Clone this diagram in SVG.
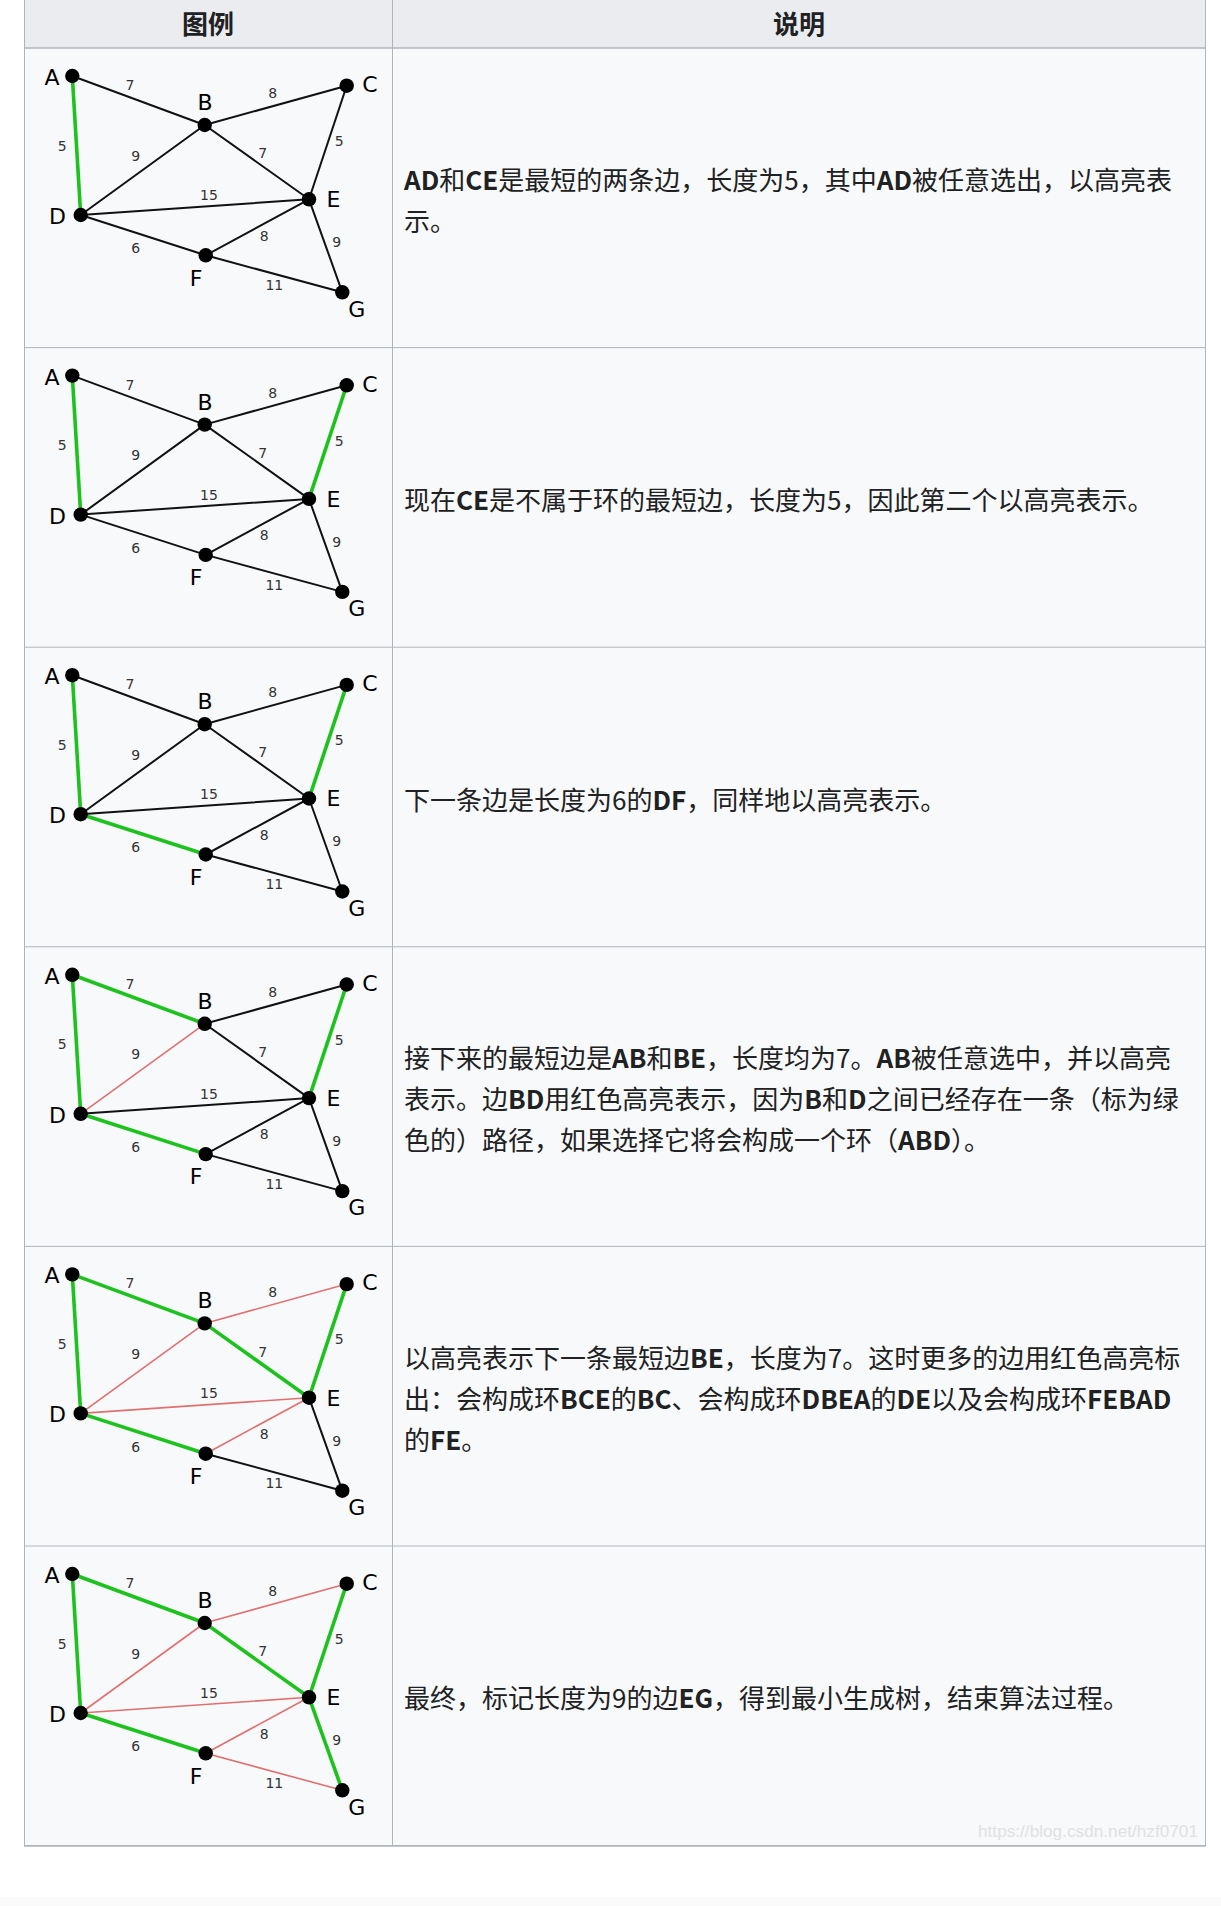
<svg xmlns="http://www.w3.org/2000/svg" width="1221" height="1906" viewBox="0 0 1221 1906">
<style>
.hd{font-family:"Noto Sans CJK SC","Noto Sans",sans-serif;font-size:26px;font-weight:bold;fill:#202122;text-anchor:middle}
.tx{font-family:"Noto Sans CJK SC","Noto Sans",sans-serif;font-size:26px;fill:#202122}
.b{font-weight:bold}
.e{stroke:#111;stroke-width:2;stroke-linecap:round;fill:none}
.g{stroke:#1ec21e;stroke-width:3.6}
.r{stroke:#e07070;stroke-width:1.6}
.n{fill:#000}
.nl{font-family:"DejaVu Sans",sans-serif;font-size:22px;fill:#000;text-anchor:middle}
.el{font-family:"DejaVu Sans",sans-serif;font-size:14px;fill:#333;text-anchor:middle}
.grid{stroke:#b0b5bc;stroke-width:1;fill:none}
.wm{font-family:"Liberation Sans",Arial,sans-serif;font-size:17px;fill:#dfe1e4;text-anchor:end}
</style>
<rect width="1221" height="1906" fill="#ffffff"/>
<rect x="0" y="1897" width="1221" height="9" fill="#fafafa"/>
<g id="table">
<rect x="24.5" y="0" width="1181" height="48" fill="#eaecf0"/>
<rect x="24.5" y="48" width="1181" height="1797.6" fill="#f8f9fa"/>
<g class="grid">
<line x1="24.5" y1="0" x2="24.5" y2="1846"/>
<line x1="392.5" y1="0" x2="392.5" y2="1846"/>
<line x1="1205.5" y1="0" x2="1205.5" y2="1846"/>
<line x1="24" y1="48" x2="1206" y2="48" stroke-width="1.6"/>
<line x1="24" y1="347.6" x2="1206" y2="347.6"/>
<line x1="24" y1="647.2" x2="1206" y2="647.2"/>
<line x1="24" y1="946.8" x2="1206" y2="946.8"/>
<line x1="24" y1="1246.4" x2="1206" y2="1246.4"/>
<line x1="24" y1="1546" x2="1206" y2="1546"/>
<line x1="24" y1="1845.8" x2="1206" y2="1845.8" stroke-width="1.8"/>
</g>
<text class="hd" x="208" y="34">图例</text>
<text class="hd" x="799" y="34">说明</text>
</g>

<g id="descriptions">
<text class="tx" x="404" y="190"><tspan class="b">AD</tspan>和<tspan class="b">CE</tspan>是最短的两条边，长度为5，其中<tspan class="b">AD</tspan>被任意选出，以高亮表</text>
<text class="tx" x="404" y="231">示。</text>
<text class="tx" x="404" y="510">现在<tspan class="b">CE</tspan>是不属于环的最短边，长度为5，因此第二个以高亮表示。</text>
<text class="tx" x="404" y="809.6">下一条边是长度为6的<tspan class="b">DF</tspan>，同样地以高亮表示。</text>
<text class="tx" x="404" y="1068">接下来的最短边是<tspan class="b">AB</tspan>和<tspan class="b">BE</tspan>，长度均为7。<tspan class="b">AB</tspan>被任意选中，并以高亮</text>
<text class="tx" x="404" y="1109">表示。边<tspan class="b">BD</tspan>用红色高亮表示，因为<tspan class="b">B</tspan>和<tspan class="b">D</tspan>之间已经存在一条（标为绿</text>
<text class="tx" x="404" y="1150">色的）路径，如果选择它将会构成一个环（<tspan class="b">ABD</tspan>）。</text>
<text class="tx" x="404" y="1368">以高亮表示下一条最短边<tspan class="b">BE</tspan>，长度为7。这时更多的边用红色高亮标</text>
<text class="tx" x="404" y="1409">出：会构成环<tspan class="b">BCE</tspan>的<tspan class="b">BC</tspan>、会构成环<tspan class="b">DBEA</tspan>的<tspan class="b">DE</tspan>以及会构成环<tspan class="b">FEBAD</tspan></text>
<text class="tx" x="404" y="1450">的<tspan class="b">FE</tspan>。</text>
<text class="tx" x="404" y="1708">最终，标记长度为9的边<tspan class="b">EG</tspan>，得到最小生成树，结束算法过程。</text>
</g>

<g id="panel1">
<g id="p1-connectors">
<line class="e" x1="72.3" y1="76" x2="204.7" y2="125"/>
<line class="e" x1="204.7" y1="125" x2="346.7" y2="85.7"/>
<line class="e" x1="80.7" y1="215" x2="204.7" y2="125"/>
<line class="e" x1="204.7" y1="125" x2="309" y2="199.3"/>
<line class="e" x1="346.7" y1="85.7" x2="309" y2="199.3"/>
<line class="e" x1="80.7" y1="215" x2="309" y2="199.3"/>
<line class="e" x1="80.7" y1="215" x2="205.7" y2="255.3"/>
<line class="e" x1="309" y1="199.3" x2="205.7" y2="255.3"/>
<line class="e" x1="309" y1="199.3" x2="342.3" y2="292.3"/>
<line class="e" x1="205.7" y1="255.3" x2="342.3" y2="292.3"/>
<line class="e g" x1="72.3" y1="76" x2="80.7" y2="215"/>
<text class="el" x="130" y="90">7</text><text class="el" x="272.7" y="98.3">8</text><text class="el" x="62.3" y="150.7">5</text><text class="el" x="135.7" y="160.7">9</text><text class="el" x="262.7" y="158.3">7</text><text class="el" x="339.3" y="146">5</text><text class="el" x="209" y="200">15</text><text class="el" x="264.3" y="240.7">8</text><text class="el" x="135.7" y="253.3">6</text><text class="el" x="336.7" y="247.3">9</text><text class="el" x="274.3" y="290">11</text>
</g>
<g id="p1-A"><circle class="n" cx="72.3" cy="76" r="7.2"/><text class="nl" x="52" y="85">A</text></g>
<g id="p1-B"><circle class="n" cx="204.7" cy="125" r="7.2"/><text class="nl" x="205" y="110">B</text></g>
<g id="p1-C"><circle class="n" cx="346.7" cy="85.7" r="7.2"/><text class="nl" x="370" y="92">C</text></g>
<g id="p1-D"><circle class="n" cx="80.7" cy="215" r="7.2"/><text class="nl" x="57.5" y="224">D</text></g>
<g id="p1-E"><circle class="n" cx="309" cy="199.3" r="7.2"/><text class="nl" x="333.5" y="207.3">E</text></g>
<g id="p1-F"><circle class="n" cx="205.7" cy="255.3" r="7.2"/><text class="nl" x="196" y="285.7">F</text></g>
<g id="p1-G"><circle class="n" cx="342.3" cy="292.3" r="7.2"/><text class="nl" x="356.7" y="316.7">G</text></g>
</g>

<g id="panel2" transform="translate(0,299.6)">
<g id="p2-connectors">
<line class="e" x1="72.3" y1="76" x2="204.7" y2="125"/>
<line class="e" x1="204.7" y1="125" x2="346.7" y2="85.7"/>
<line class="e" x1="80.7" y1="215" x2="204.7" y2="125"/>
<line class="e" x1="204.7" y1="125" x2="309" y2="199.3"/>
<line class="e" x1="80.7" y1="215" x2="309" y2="199.3"/>
<line class="e" x1="80.7" y1="215" x2="205.7" y2="255.3"/>
<line class="e" x1="309" y1="199.3" x2="205.7" y2="255.3"/>
<line class="e" x1="309" y1="199.3" x2="342.3" y2="292.3"/>
<line class="e" x1="205.7" y1="255.3" x2="342.3" y2="292.3"/>
<line class="e g" x1="72.3" y1="76" x2="80.7" y2="215"/>
<line class="e g" x1="346.7" y1="85.7" x2="309" y2="199.3"/>
<text class="el" x="130" y="90">7</text><text class="el" x="272.7" y="98.3">8</text><text class="el" x="62.3" y="150.7">5</text><text class="el" x="135.7" y="160.7">9</text><text class="el" x="262.7" y="158.3">7</text><text class="el" x="339.3" y="146">5</text><text class="el" x="209" y="200">15</text><text class="el" x="264.3" y="240.7">8</text><text class="el" x="135.7" y="253.3">6</text><text class="el" x="336.7" y="247.3">9</text><text class="el" x="274.3" y="290">11</text>
</g>
<g id="p2-A"><circle class="n" cx="72.3" cy="76" r="7.2"/><text class="nl" x="52" y="85">A</text></g>
<g id="p2-B"><circle class="n" cx="204.7" cy="125" r="7.2"/><text class="nl" x="205" y="110">B</text></g>
<g id="p2-C"><circle class="n" cx="346.7" cy="85.7" r="7.2"/><text class="nl" x="370" y="92">C</text></g>
<g id="p2-D"><circle class="n" cx="80.7" cy="215" r="7.2"/><text class="nl" x="57.5" y="224">D</text></g>
<g id="p2-E"><circle class="n" cx="309" cy="199.3" r="7.2"/><text class="nl" x="333.5" y="207.3">E</text></g>
<g id="p2-F"><circle class="n" cx="205.7" cy="255.3" r="7.2"/><text class="nl" x="196" y="285.7">F</text></g>
<g id="p2-G"><circle class="n" cx="342.3" cy="292.3" r="7.2"/><text class="nl" x="356.7" y="316.7">G</text></g>
</g>

<g id="panel3" transform="translate(0,599.2)">
<g id="p3-connectors">
<line class="e" x1="72.3" y1="76" x2="204.7" y2="125"/>
<line class="e" x1="204.7" y1="125" x2="346.7" y2="85.7"/>
<line class="e" x1="80.7" y1="215" x2="204.7" y2="125"/>
<line class="e" x1="204.7" y1="125" x2="309" y2="199.3"/>
<line class="e" x1="80.7" y1="215" x2="309" y2="199.3"/>
<line class="e" x1="309" y1="199.3" x2="205.7" y2="255.3"/>
<line class="e" x1="309" y1="199.3" x2="342.3" y2="292.3"/>
<line class="e" x1="205.7" y1="255.3" x2="342.3" y2="292.3"/>
<line class="e g" x1="72.3" y1="76" x2="80.7" y2="215"/>
<line class="e g" x1="346.7" y1="85.7" x2="309" y2="199.3"/>
<line class="e g" x1="80.7" y1="215" x2="205.7" y2="255.3"/>
<text class="el" x="130" y="90">7</text><text class="el" x="272.7" y="98.3">8</text><text class="el" x="62.3" y="150.7">5</text><text class="el" x="135.7" y="160.7">9</text><text class="el" x="262.7" y="158.3">7</text><text class="el" x="339.3" y="146">5</text><text class="el" x="209" y="200">15</text><text class="el" x="264.3" y="240.7">8</text><text class="el" x="135.7" y="253.3">6</text><text class="el" x="336.7" y="247.3">9</text><text class="el" x="274.3" y="290">11</text>
</g>
<g id="p3-A"><circle class="n" cx="72.3" cy="76" r="7.2"/><text class="nl" x="52" y="85">A</text></g>
<g id="p3-B"><circle class="n" cx="204.7" cy="125" r="7.2"/><text class="nl" x="205" y="110">B</text></g>
<g id="p3-C"><circle class="n" cx="346.7" cy="85.7" r="7.2"/><text class="nl" x="370" y="92">C</text></g>
<g id="p3-D"><circle class="n" cx="80.7" cy="215" r="7.2"/><text class="nl" x="57.5" y="224">D</text></g>
<g id="p3-E"><circle class="n" cx="309" cy="199.3" r="7.2"/><text class="nl" x="333.5" y="207.3">E</text></g>
<g id="p3-F"><circle class="n" cx="205.7" cy="255.3" r="7.2"/><text class="nl" x="196" y="285.7">F</text></g>
<g id="p3-G"><circle class="n" cx="342.3" cy="292.3" r="7.2"/><text class="nl" x="356.7" y="316.7">G</text></g>
</g>

<g id="panel4" transform="translate(0,898.8)">
<g id="p4-connectors">
<line class="e" x1="204.7" y1="125" x2="346.7" y2="85.7"/>
<line class="e r" x1="80.7" y1="215" x2="204.7" y2="125"/>
<line class="e" x1="204.7" y1="125" x2="309" y2="199.3"/>
<line class="e" x1="80.7" y1="215" x2="309" y2="199.3"/>
<line class="e" x1="309" y1="199.3" x2="205.7" y2="255.3"/>
<line class="e" x1="309" y1="199.3" x2="342.3" y2="292.3"/>
<line class="e" x1="205.7" y1="255.3" x2="342.3" y2="292.3"/>
<line class="e g" x1="72.3" y1="76" x2="204.7" y2="125"/>
<line class="e g" x1="72.3" y1="76" x2="80.7" y2="215"/>
<line class="e g" x1="346.7" y1="85.7" x2="309" y2="199.3"/>
<line class="e g" x1="80.7" y1="215" x2="205.7" y2="255.3"/>
<text class="el" x="130" y="90">7</text><text class="el" x="272.7" y="98.3">8</text><text class="el" x="62.3" y="150.7">5</text><text class="el" x="135.7" y="160.7">9</text><text class="el" x="262.7" y="158.3">7</text><text class="el" x="339.3" y="146">5</text><text class="el" x="209" y="200">15</text><text class="el" x="264.3" y="240.7">8</text><text class="el" x="135.7" y="253.3">6</text><text class="el" x="336.7" y="247.3">9</text><text class="el" x="274.3" y="290">11</text>
</g>
<g id="p4-A"><circle class="n" cx="72.3" cy="76" r="7.2"/><text class="nl" x="52" y="85">A</text></g>
<g id="p4-B"><circle class="n" cx="204.7" cy="125" r="7.2"/><text class="nl" x="205" y="110">B</text></g>
<g id="p4-C"><circle class="n" cx="346.7" cy="85.7" r="7.2"/><text class="nl" x="370" y="92">C</text></g>
<g id="p4-D"><circle class="n" cx="80.7" cy="215" r="7.2"/><text class="nl" x="57.5" y="224">D</text></g>
<g id="p4-E"><circle class="n" cx="309" cy="199.3" r="7.2"/><text class="nl" x="333.5" y="207.3">E</text></g>
<g id="p4-F"><circle class="n" cx="205.7" cy="255.3" r="7.2"/><text class="nl" x="196" y="285.7">F</text></g>
<g id="p4-G"><circle class="n" cx="342.3" cy="292.3" r="7.2"/><text class="nl" x="356.7" y="316.7">G</text></g>
</g>

<g id="panel5" transform="translate(0,1198.4)">
<g id="p5-connectors">
<line class="e r" x1="204.7" y1="125" x2="346.7" y2="85.7"/>
<line class="e r" x1="80.7" y1="215" x2="204.7" y2="125"/>
<line class="e r" x1="80.7" y1="215" x2="309" y2="199.3"/>
<line class="e r" x1="309" y1="199.3" x2="205.7" y2="255.3"/>
<line class="e" x1="309" y1="199.3" x2="342.3" y2="292.3"/>
<line class="e" x1="205.7" y1="255.3" x2="342.3" y2="292.3"/>
<line class="e g" x1="72.3" y1="76" x2="204.7" y2="125"/>
<line class="e g" x1="204.7" y1="125" x2="309" y2="199.3"/>
<line class="e g" x1="72.3" y1="76" x2="80.7" y2="215"/>
<line class="e g" x1="346.7" y1="85.7" x2="309" y2="199.3"/>
<line class="e g" x1="80.7" y1="215" x2="205.7" y2="255.3"/>
<text class="el" x="130" y="90">7</text><text class="el" x="272.7" y="98.3">8</text><text class="el" x="62.3" y="150.7">5</text><text class="el" x="135.7" y="160.7">9</text><text class="el" x="262.7" y="158.3">7</text><text class="el" x="339.3" y="146">5</text><text class="el" x="209" y="200">15</text><text class="el" x="264.3" y="240.7">8</text><text class="el" x="135.7" y="253.3">6</text><text class="el" x="336.7" y="247.3">9</text><text class="el" x="274.3" y="290">11</text>
</g>
<g id="p5-A"><circle class="n" cx="72.3" cy="76" r="7.2"/><text class="nl" x="52" y="85">A</text></g>
<g id="p5-B"><circle class="n" cx="204.7" cy="125" r="7.2"/><text class="nl" x="205" y="110">B</text></g>
<g id="p5-C"><circle class="n" cx="346.7" cy="85.7" r="7.2"/><text class="nl" x="370" y="92">C</text></g>
<g id="p5-D"><circle class="n" cx="80.7" cy="215" r="7.2"/><text class="nl" x="57.5" y="224">D</text></g>
<g id="p5-E"><circle class="n" cx="309" cy="199.3" r="7.2"/><text class="nl" x="333.5" y="207.3">E</text></g>
<g id="p5-F"><circle class="n" cx="205.7" cy="255.3" r="7.2"/><text class="nl" x="196" y="285.7">F</text></g>
<g id="p5-G"><circle class="n" cx="342.3" cy="292.3" r="7.2"/><text class="nl" x="356.7" y="316.7">G</text></g>
</g>

<g id="panel6" transform="translate(0,1498)">
<g id="p6-connectors">
<line class="e r" x1="204.7" y1="125" x2="346.7" y2="85.7"/>
<line class="e r" x1="80.7" y1="215" x2="204.7" y2="125"/>
<line class="e r" x1="80.7" y1="215" x2="309" y2="199.3"/>
<line class="e r" x1="309" y1="199.3" x2="205.7" y2="255.3"/>
<line class="e r" x1="205.7" y1="255.3" x2="342.3" y2="292.3"/>
<line class="e g" x1="309" y1="199.3" x2="342.3" y2="292.3"/>
<line class="e g" x1="72.3" y1="76" x2="204.7" y2="125"/>
<line class="e g" x1="204.7" y1="125" x2="309" y2="199.3"/>
<line class="e g" x1="72.3" y1="76" x2="80.7" y2="215"/>
<line class="e g" x1="346.7" y1="85.7" x2="309" y2="199.3"/>
<line class="e g" x1="80.7" y1="215" x2="205.7" y2="255.3"/>
<text class="el" x="130" y="90">7</text><text class="el" x="272.7" y="98.3">8</text><text class="el" x="62.3" y="150.7">5</text><text class="el" x="135.7" y="160.7">9</text><text class="el" x="262.7" y="158.3">7</text><text class="el" x="339.3" y="146">5</text><text class="el" x="209" y="200">15</text><text class="el" x="264.3" y="240.7">8</text><text class="el" x="135.7" y="253.3">6</text><text class="el" x="336.7" y="247.3">9</text><text class="el" x="274.3" y="290">11</text>
</g>
<g id="p6-A"><circle class="n" cx="72.3" cy="76" r="7.2"/><text class="nl" x="52" y="85">A</text></g>
<g id="p6-B"><circle class="n" cx="204.7" cy="125" r="7.2"/><text class="nl" x="205" y="110">B</text></g>
<g id="p6-C"><circle class="n" cx="346.7" cy="85.7" r="7.2"/><text class="nl" x="370" y="92">C</text></g>
<g id="p6-D"><circle class="n" cx="80.7" cy="215" r="7.2"/><text class="nl" x="57.5" y="224">D</text></g>
<g id="p6-E"><circle class="n" cx="309" cy="199.3" r="7.2"/><text class="nl" x="333.5" y="207.3">E</text></g>
<g id="p6-F"><circle class="n" cx="205.7" cy="255.3" r="7.2"/><text class="nl" x="196" y="285.7">F</text></g>
<g id="p6-G"><circle class="n" cx="342.3" cy="292.3" r="7.2"/><text class="nl" x="356.7" y="316.7">G</text></g>
</g>

<text class="wm" x="1198" y="1837" textLength="220" lengthAdjust="spacingAndGlyphs">https://blog.csdn.net/hzf0701</text>
</svg>
